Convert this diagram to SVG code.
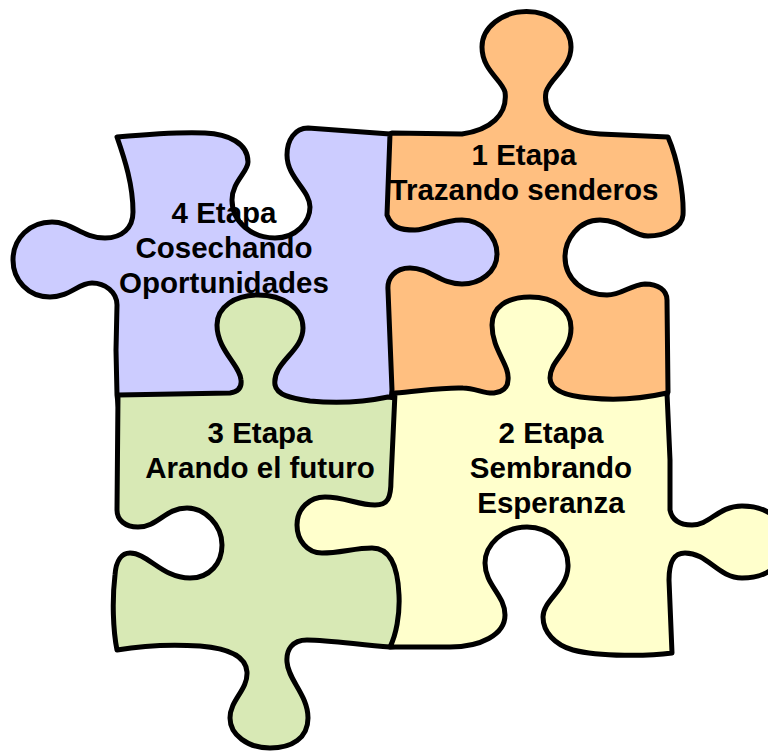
<svg xmlns="http://www.w3.org/2000/svg" width="768" height="754" viewBox="0 0 768 754">
<style>
.piece{stroke:#000;stroke-width:5;stroke-linejoin:round;stroke-linecap:round}
.lbl{font-family:"Liberation Sans",Arial,sans-serif;font-weight:bold;font-size:29.5px;fill:#000;text-anchor:middle}
</style>
<rect width="768" height="754" fill="#fff"/>
<g id="etapa1">
<path class="piece" fill="#FFBF80" d="M 392 133 L 462 134 C 490 130, 508 115, 505 92 C 502 80, 482 70, 482 47 A 44 35 0 0 1 571 47 C 571 68, 550 78, 546 92 C 542 115, 565 132, 600 134 L 668 137 C 678 160, 684 195, 683 215 C 682 228, 665 236, 648 236 C 632 236, 622 220, 600 220 C 578 220, 565 240, 565 257 C 565 280, 585 295, 607 295 C 622 295, 630 285, 645 284 C 658 284, 667 290, 667 300 L 668 392 L 660 410 L 400 410 L 380 393 L 378 140 Z"/>
<text class="lbl" x="524" y="165">1 Etapa</text>
<text class="lbl" x="524" y="200">Trazando senderos</text>
</g>
<g id="etapa4">
<path class="piece" fill="#CCCCFF" d="M 117 137 C 150 134, 185 132, 205 133 C 228 134, 248 143, 248 162 C 248 172, 232 182, 232 200 C 232 222, 252 238, 275 238 C 296 238, 310 222, 310 207 C 310 190, 287 178, 287 155 C 287 140, 295 128, 308 128 L 390 134 L 387 215 C 392 228, 400 230, 415 230 C 430 230, 440 220, 462 220 C 482 220, 497 237, 497 254 C 497 272, 480 284, 462 284 C 440 284, 430 268, 410 268 C 395 268, 387 278, 388 290 L 392 390 L 390 412 L 119 412 L 117 395 L 116 350 L 117 305 C 117 292, 105 283, 92 283 C 78 283, 70 297, 50 297 C 28 297, 13 280, 13 260 C 13 238, 30 222, 52 222 C 72 222, 82 238, 105 238 C 122 238, 133 228, 133 212 C 133 185, 125 160, 117 137 Z"/>
<text class="lbl" x="224" y="223">4 Etapa</text>
<text class="lbl" x="224" y="258">Cosechando</text>
<text class="lbl" x="224" y="293">Oportunidades</text>
</g>
<g id="etapa3">
<path class="piece" fill="#D8E9B5" d="M 118 395 L 230 393 C 238 392, 242 388, 241 380 C 240 365, 217 350, 217 325 C 217 307, 235 295, 258 295 C 283 295, 303 308, 303 328 C 303 352, 272 362, 275 385 C 277 395, 290 398, 310 401 Q 350 405 388 397 L 410 400 L 410 645 L 390 647 C 360 645, 330 640, 307 640 C 292 640, 286 650, 287 662 C 288 680, 308 695, 308 718 C 308 738, 292 748, 270 748 C 248 748, 230 735, 230 718 C 230 700, 248 690, 247 672 C 246 655, 225 648, 200 646 C 170 644, 140 646, 117 650 C 113 630, 112 600, 115 575 C 116 560, 122 553, 130 553 C 148 553, 162 578, 190 578 C 210 578, 222 563, 222 545 C 222 525, 205 508, 187 508 C 165 508, 158 527, 138 527 C 125 527, 117 520, 117 510 L 118 395 Z"/>
<text class="lbl" x="260" y="443">3 Etapa</text>
<text class="lbl" x="260" y="478">Arando el futuro</text>
</g>
<g id="etapa2">
<path class="piece" fill="#FFFFCC" d="M 395 393 C 420 391, 445 387, 463 388 C 475 388, 485 394, 494 393 C 502 392, 508 388, 508 380 C 510 365, 492 350, 492 325 C 492 307, 507 297, 530 297 C 555 297, 571 310, 571 328 C 571 352, 550 360, 550 378 C 550 390, 565 396, 590 398 C 620 401, 645 398, 667 393 L 670 460 L 670 510 C 672 520, 680 525, 692 525 C 710 525, 718 506, 742 506 C 770 506, 785 522, 785 542 C 785 562, 770 578, 742 578 C 718 578, 708 553, 685 553 C 672 553, 669 565, 669 580 L 672 653 C 650 656, 600 657, 573 650 C 555 645, 543 632, 543 617 C 543 600, 567 590, 568 567 C 569 545, 550 527, 527 527 C 503 527, 485 545, 485 563 C 485 585, 505 595, 505 615 C 505 635, 480 647, 450 647 L 390 647 C 396 635, 400 615, 399 595 C 398 570, 392 548, 372 548 C 355 548, 340 553, 322 553 C 307 553, 297 540, 297 525 C 297 508, 310 497, 325 497 C 345 497, 358 505, 375 505 C 388 505, 391 498, 391 480 L 395 393 Z"/>
<text class="lbl" x="551" y="443">2 Etapa</text>
<text class="lbl" x="551" y="478">Sembrando</text>
<text class="lbl" x="551" y="513">Esperanza</text>
</g>
</svg>
